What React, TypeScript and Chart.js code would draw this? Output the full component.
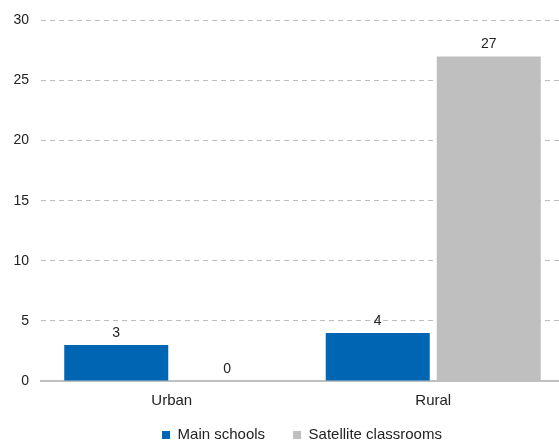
import React, { useEffect, useRef } from "react";
import { Chart, registerables } from "chart.js";

Chart.register(...registerables);

const categories = ["Urban", "Rural"];
const seriesNames = ["Main schools", "Satellite classrooms"];
const mainSchools = [3, 4];
const satelliteClassrooms = [0, 27];
const yTicks = [0, 5, 10, 15, 20, 25, 30];

const FONT = "'Liberation Sans', Arial, Helvetica, sans-serif";
const TEXT = "#222222";

const valueLabels = {
  id: "valueLabels",
  afterDatasetsDraw(chart: any) {
    const ctx = chart.ctx;
    ctx.save();
    ctx.font = `14px ${FONT}`;
    ctx.fillStyle = TEXT;
    ctx.textAlign = "center";
    ctx.textBaseline = "alphabetic";
    chart.data.datasets.forEach((ds: any, i: number) => {
      const meta = chart.getDatasetMeta(i);
      meta.data.forEach((bar: any, j: number) => {
        ctx.fillText(String(ds.data[j]), bar.x, bar.y - 8);
      });
    });
    ctx.restore();
  },
};

// move the legend block up a little so it sits closer to the axis labels
const legendShift = {
  id: "legendShift",
  afterLayout(chart: any) {
    const lg = chart.legend;
    if (lg) {
      lg.top -= 11.5;
      lg.bottom -= 11.5;
    }
  },
};

export default function App() {
  const ref = useRef<HTMLCanvasElement | null>(null);

  useEffect(() => {
    if (!ref.current) return;
    const chart = new Chart(ref.current, {
      type: "bar",
      data: {
        labels: categories,
        datasets: [
          {
            label: seriesNames[0],
            data: mainSchools,
            backgroundColor: "#0066B3",
            borderWidth: 0,
            categoryPercentage: 0.849,
            barPercentage: 0.937,
          },
          {
            label: seriesNames[1],
            data: satelliteClassrooms,
            backgroundColor: "#BFBFBF",
            borderWidth: 0,
            categoryPercentage: 0.849,
            barPercentage: 0.937,
          },
        ],
      },
      options: {
        responsive: false,
        animation: false,
        devicePixelRatio: 1,
        layout: { padding: { top: 17, left: 0, right: 0, bottom: 0 } },
        plugins: {
          tooltip: { enabled: false },
          legend: {
            position: "bottom",
            labels: {
              boxWidth: 8,
              boxHeight: 8,
              padding: 28,
              color: TEXT,
              font: { family: FONT, size: 15 },
            },
          },
        },
        scales: {
          x: {
            grid: { display: false, drawTicks: false },
            border: { display: true, color: "#BFBFBF", width: 2 },
            ticks: {
              color: TEXT,
              padding: 11,
              font: { family: FONT, size: 15 },
            },
            afterFit: (s: any) => {
              s.height = 30;
            },
          },
          y: {
            min: yTicks[0],
            max: yTicks[yTicks.length - 1],
            ticks: {
              stepSize: yTicks[1] - yTicks[0],
              color: TEXT,
              padding: 12,
              font: { family: FONT, size: 14 },
            },
            grid: { color: "#BDBDBD", lineWidth: 1, drawTicks: false },
            border: { display: false, dash: [5, 4] },
            afterFit: (s: any) => {
              s.width = 41;
            },
          },
          y2: {
            position: "right",
            display: true,
            grid: { display: false, drawTicks: false },
            border: { display: false },
            ticks: { display: false },
            afterFit: (s: any) => {
              s.width = 40;
            },
          },
        },
      },
      plugins: [valueLabels, legendShift],
    } as any);
    return () => chart.destroy();
  }, []);

  return (
    <div style={{ position: "fixed", left: 0, top: 0, width: 604, height: 464, background: "#ffffff" }}>
      <canvas ref={ref} width={604} height={464} style={{ display: "block", width: 604, height: 464 }} />
    </div>
  );
}
